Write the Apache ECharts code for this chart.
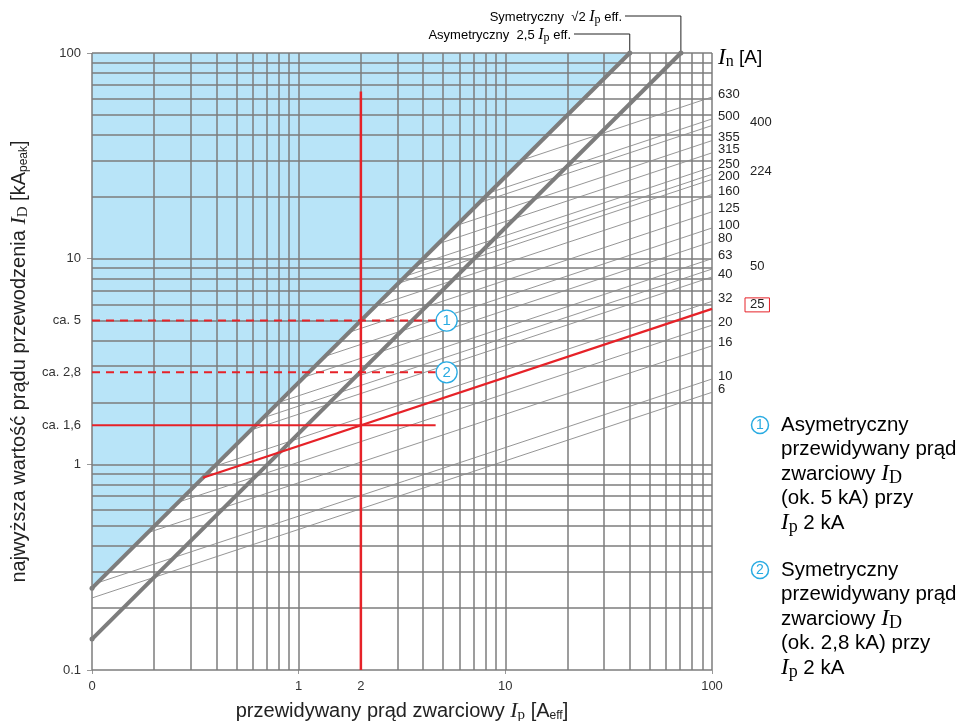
<!DOCTYPE html>
<html><head><meta charset="utf-8">
<script src="https://cdn.jsdelivr.net/npm/echarts@6/dist/echarts.min.js"></script>
<style>html,body{margin:0;padding:0;background:#fff}#c{width:967px;height:721px}</style>
</head><body><div id="c"></div>
<script>
// ---- data ----
const gridX = [0.1,0.2,0.3,0.4,0.5,0.6,0.7,0.8,0.9,1,2,3,4,5,6,7,8,9,10,20,30,40,50,60,70,80,90,100];
const gridY = [0.1,0.2,0.3,0.4,0.5,0.6,0.7,0.8,0.9,1,2,3,4,5,6,7,8,9,10,20,30,40,50,60,70,80,90,100];
const xTickLabels = [0.1, 1, 2, 10, 100];
const yTickLabels = [0.1, 1, 1.55, 2.8, 5, 10, 100];

// asymmetric 2.5*Ip and symmetric sqrt2*Ip lines
const asymLine = [[0.1, 0.25], [40, 100]];
const symLine = [[0.1, 0.1414], [70.7, 100]];

// fuse rating lines (In [A]) : start point and end point (Ip kA, ID kA)
const fuseRatings = ['630','500','400','355','315','250','224','200','160','125','100','80','63','50','40','32','25','20','16','10','6'];
const fuseStartIp = [12.1, 8.36, 7.48, 5.81, 4.73, 3.73, 3.30, 3.03, 2.35, 1.76, 1.34, 1.07, 0.80, 0.67, 0.59, 0.39, 0.344, 0.262, 0.185, 0.106, 0.1];
const fuseStartId = [30.2, 20.9, 18.7, 14.5, 11.8, 9.32, 8.24, 7.58, 5.87, 4.39, 3.35, 2.66, 2.0, 1.68, 1.47, 0.976, 0.86, 0.655, 0.464, 0.265, 0.224];
const fuseEndIp   = [100,100,100,100,100,100,100,100,100,100,100,100,100,100,100,100,100,100,100,100,100];
const fuseEndId   = [61.1, 47.8, 44.4, 37.5, 32.7, 27.9, 25.7, 24.3, 20.5, 16.9, 14.1, 12.1, 10.0, 8.9, 8.15, 6.2, 5.7, 4.75, 3.77, 2.6, 2.24];
const secondColumn = ['400','224','50','25'];
const highlighted = '25';

// red example lines
const exampleIp = 2;
const exampleTop = 65;
const exampleLevels = [5, 2.8, 1.55];
const exampleLevelEnd = 4.6;
const markerCoords = [[5.2, 5], [5.2, 2.8]];
const markerNames = ['1', '2'];

// ---- chart ----
const SANS = '"Liberation Sans", Arial, sans-serif';
const SERIF = '"Liberation Serif", "DejaVu Serif", serif';
const GRAY = '#7d7d7d';
const RED = '#e62228';
const BLUE = '#29abe2';

const chart = echarts.init(document.getElementById('c'));

const series = [];
series.push({
  type: 'line', name: 'area', data: asymLine, z: 1, symbol: 'none', silent: true,
  lineStyle: { width: 0 }, areaStyle: { origin: 'end', color: '#b8e4f8', opacity: 1 }
});
series.push({
  type: 'line', name: 'grid', data: [], z: 2, symbol: 'none', silent: true,
  markLine: {
    silent: true, z: 2, symbol: ['none', 'none'], label: { show: false },
    lineStyle: { color: GRAY, width: 1.5, type: 'solid' },
    emphasis: { disabled: true },
    data: gridX.map(v => ({ xAxis: v })).concat(gridY.map(v => ({ yAxis: v })))
  }
});
fuseRatings.forEach((r, i) => {
  const isHi = r === highlighted;
  const col2 = secondColumn.includes(r);
  series.push({
    type: 'line', name: r, z: isHi ? 6 : 3, silent: true, symbol: 'none',
    data: [[fuseStartIp[i], fuseStartId[i]], [fuseEndIp[i], fuseEndId[i]]],
    lineStyle: { color: isHi ? RED : '#8a8a8a', width: isHi ? 2.2 : 0.9 },
    endLabel: {
      show: true, formatter: r, distance: 0,
      offset: isHi ? [33, -4] : (col2 ? [38, -3] : [6, -3]),
      fontFamily: SANS, fontSize: 13, color: '#222',
      borderColor: isHi ? RED : 'transparent', borderWidth: isHi ? 1 : 0,
      padding: isHi ? [1, 5, 0, 5] : 0
    }
  });
});
series.push({
  type: 'line', name: 'asym', data: asymLine, z: 4, silent: true,
  symbol: 'circle', symbolSize: 5, itemStyle: { color: GRAY },
  lineStyle: { color: GRAY, width: 4 }
});
series.push({
  type: 'line', name: 'sym', data: symLine, z: 4, silent: true,
  symbol: 'circle', symbolSize: 5, itemStyle: { color: GRAY },
  lineStyle: { color: GRAY, width: 4 }
});
series.push({
  type: 'line', name: 'vert', data: [[exampleIp, 0.1], [exampleIp, exampleTop]], z: 6, silent: true,
  symbol: 'none', lineStyle: { color: RED, width: 2.5 }
});
exampleLevels.forEach((lv, i) => {
  series.push({
    type: 'line', name: 'lv' + i, data: [[0.1, lv], [exampleLevelEnd, lv]], z: 6, silent: true,
    symbol: 'none', lineStyle: { color: RED, width: 2, type: i < 2 ? [8, 6] : 'solid' }
  });
});
series.push({
  type: 'line', name: 'markers', data: [], z: 7, symbol: 'none', silent: true,
  markPoint: {
    silent: true, z: 7, symbol: 'circle', symbolSize: 21,
    itemStyle: { color: '#fff', borderColor: BLUE, borderWidth: 1.3 },
    label: { show: true, formatter: p => p.name, color: BLUE, fontFamily: SANS, fontSize: 15 },
    data: markerCoords.map((c, i) => ({ coord: c, name: markerNames[i] }))
  }
});

const subRich = {
  t: { fontFamily: SANS, fontSize: 20, color: '#222' },
  i: { fontFamily: SERIF, fontStyle: 'italic', fontSize: 22, color: '#222' },
  sub: { fontFamily: SERIF, fontSize: 15, color: '#222', padding: [8, 0, 0, 0] },
  sub2: { fontFamily: SANS, fontSize: 12, color: '#222', padding: [9, 0, 0, 0] }
};

chart.setOption({
  animation: false,
  backgroundColor: '#fff',
  grid: { left: 92, right: 255, top: 53, bottom: 51, containLabel: false, outerBoundsMode: 'none' },
  xAxis: {
    type: 'log', logBase: 10, min: 0.1, max: 100,
    axisLine: { show: false }, splitLine: { show: false }, minorSplitLine: { show: false },
    axisTick: { show: true, length: 4, lineStyle: { color: '#999', width: 1 }, customValues: [0.1, 1, 10, 100] },
    axisLabel: {
      customValues: xTickLabels, color: '#333', fontFamily: SANS, fontSize: 13, margin: 10,
      formatter: v => (v < 0.15 ? '0' : String(Math.round(v)))
    },
    name: '{t|przewidywany prąd zwarciowy }{i|I}{sub|p}{t| [A}{sub2|eff}{t|]}',
    nameLocation: 'middle', nameGap: 30,
    nameTextStyle: { rich: subRich }
  },
  yAxis: {
    type: 'log', logBase: 10, min: 0.1, max: 100,
    axisLine: { show: false }, splitLine: { show: false }, minorSplitLine: { show: false },
    axisTick: { show: true, length: 5, lineStyle: { color: '#999', width: 1 }, customValues: [0.1, 1, 10, 100] },
    axisLabel: {
      customValues: yTickLabels, color: '#333', fontFamily: SANS, fontSize: 13, margin: 11,
      formatter: v => {
        if (v < 0.15) return '0.1';
        if (Math.abs(v - 1.55) < 0.01) return 'ca. 1,6';
        if (Math.abs(v - 2.8) < 0.01) return 'ca. 2,8';
        if (Math.abs(v - 5) < 0.01) return 'ca. 5';
        return String(Math.round(v));
      }
    },
    name: '{t|najwyższa wartość prądu przewodzenia }{i|I}{sub|D}{t| [kA}{sub2|peak}{t|]}',
    nameLocation: 'middle', nameGap: 61, nameRotate: 90,
    nameTextStyle: { rich: subRich }
  },
  series: series
});

// annotations placed from the chart's own scales
const pA = chart.convertToPixel({ gridIndex: 0 }, asymLine[1]);
const pS = chart.convertToPixel({ gridIndex: 0 }, symLine[1]);
const smallRich = {
  t: { fontFamily: SANS, fontSize: 13, color: '#222' },
  i: { fontFamily: SERIF, fontStyle: 'italic', fontSize: 16, color: '#222' },
  sub: { fontFamily: SERIF, fontSize: 12, color: '#222', padding: [6, 0, 0, 0] }
};
const legRich = {
  t: { fontFamily: SANS, fontSize: 20.5, color: '#222', lineHeight: 24.5 },
  i: { fontFamily: SERIF, fontStyle: 'italic', fontSize: 23, color: '#222', lineHeight: 24.5 },
  sub: { fontFamily: SERIF, fontSize: 18, color: '#222', padding: [8, 0, 0, 0], lineHeight: 24.5 }
};
function legendCircle(cx, cy, n) {
  return [
    { type: 'circle', shape: { cx: cx, cy: cy, r: 8.5 }, style: { fill: '#fff', stroke: BLUE, lineWidth: 1.5 } },
    { type: 'text', x: cx, y: cy + 0.5, style: { text: n, fill: BLUE, font: '14px ' + SANS, align: 'center', verticalAlign: 'middle' } }
  ];
}
const graphics = [
  { type: 'polyline', shape: { points: [[574, 34], [pA[0], 34], [pA[0], pA[1]]] }, style: { stroke: '#222', lineWidth: 1, fill: null } },
  { type: 'polyline', shape: { points: [[625, 16], [pS[0], 16], [pS[0], pS[1]]] }, style: { stroke: '#222', lineWidth: 1, fill: null } },
  { type: 'text', x: 571, y: 35, style: { text: '{t|Asymetryczny  2,5 }{i|I}{sub|p}{t| eff.}', rich: smallRich, align: 'right', verticalAlign: 'middle' } },
  { type: 'text', x: 622, y: 17, style: { text: '{t|Symetryczny  √2 }{i|I}{sub|p}{t| eff.}', rich: smallRich, align: 'right', verticalAlign: 'middle' } },
  { type: 'text', x: 718, y: 58, style: { text: '{i|I}{sub|n}{t| [A]}', rich: {
      t: { fontFamily: SANS, fontSize: 19, color: '#222' },
      i: { fontFamily: SERIF, fontStyle: 'italic', fontSize: 23, color: '#222' },
      sub: { fontFamily: SERIF, fontSize: 16, color: '#222', padding: [8, 0, 0, 0] } },
    align: 'left', verticalAlign: 'middle' } },
  ...legendCircle(760, 425, '1'),
  { type: 'text', x: 781, y: 413, style: { text: '{t|Asymetryczny}\n{t|przewidywany prąd}\n{t|zwarciowy }{i|I}{sub|D}\n{t|(ok. 5 kA) przy}\n{i|I}{sub|p}{t| 2 kA}', rich: legRich, align: 'left', verticalAlign: 'top' } },
  ...legendCircle(760, 570, '2'),
  { type: 'text', x: 781, y: 558, style: { text: '{t|Symetryczny}\n{t|przewidywany prąd}\n{t|zwarciowy }{i|I}{sub|D}\n{t|(ok. 2,8 kA) przy}\n{i|I}{sub|p}{t| 2 kA}', rich: legRich, align: 'left', verticalAlign: 'top' } }
];
chart.setOption({ graphic: graphics });
</script>
</body></html>
